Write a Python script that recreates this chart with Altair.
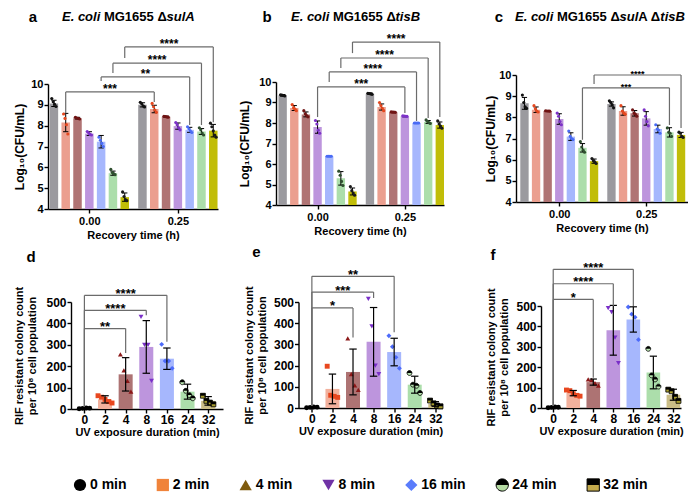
import altair as alt
import pandas as pd

FONT = "Liberation Sans"

# ---------------- categories / labels ----------------
CONDS = ["0 min", "2 min", "4 min", "8 min", "16 min", "24 min", "32 min"]
UV_LABELS = ["0", "2", "4", "8", "16", "24", "32"]
RECOVERY_LABELS = ["0.00", "0.25"]

# ---------------- panel a : E. coli MG1655 dsulA ----------------
A0_MEAN = [9.07, 8.15, 8.36, 7.62, 7.23, 5.72, 4.57]
A0_SD = [0.15, 0.44, 0.04, 0.09, 0.3, 0.1, 0.2]
A0_PTS = [[9.3, 9.15, 9.03, 8.92], [8.56, 8.35, 8.05, 7.6], [8.4, 8.37, 8.35, 8.32],
          [7.72, 7.66, 7.58, 7.55], [7.45, 7.3, 7.15, 7.0], [5.9, 5.75, 5.7, 5.65],
          [4.82, 4.6, 4.45, 4.4]]
A25_MEAN = [9.0, 8.8, 8.43, 7.98, 7.8, 7.72, 7.76]
A25_SD = [0.1, 0.18, 0.03, 0.15, 0.12, 0.14, 0.3]
A25_PTS = [[9.12, 9.05, 8.95, 8.9], [9.07, 8.91, 8.75, 8.64], [8.45, 8.44, 8.42, 8.41],
           [8.15, 8.05, 7.9, 7.8], [7.95, 7.85, 7.75, 7.67], [7.9, 7.8, 7.65, 7.55],
           [8.12, 7.95, 7.75, 7.55, 7.45]]
# (condition index, bracket level, left leg end, right leg end, label)
A_BRACKETS = [(1, 9.62, 8.6, 9.14, "***"), (4, 10.34, 10.14, 8.03, "**"),
              (5, 11.0, 10.53, 8.03, "****"), (6, 11.78, 11.25, 8.17, "****")]

# ---------------- panel b : E. coli MG1655 dtisB ----------------
B0_MEAN = [9.35, 8.73, 8.42, 7.8, 6.38, 5.3, 4.66]
B0_SD = [0.04, 0.12, 0.12, 0.3, 0.0, 0.33, 0.17]
B0_PTS = [[9.38, 9.36, 9.34, 9.32], [8.9, 8.75, 8.68, 8.6], [8.6, 8.45, 8.36, 8.3],
          [8.12, 7.95, 7.65, 7.5], [6.38, 6.38, 6.38, 6.38], [5.65, 5.45, 5.15, 4.95],
          [4.9, 4.7, 4.58, 4.48]]
B25_MEAN = [9.43, 8.78, 8.53, 8.33, 8.0, 8.05, 7.9]
B25_SD = [0.04, 0.15, 0.02, 0.03, 0.0, 0.07, 0.15]
B25_PTS = [[9.45, 9.44, 9.42, 9.4], [9.0, 8.85, 8.72, 8.6], [8.54, 8.53, 8.53, 8.52],
           [8.35, 8.34, 8.33, 8.32], [8.0, 8.0, 8.0, 8.0], [8.15, 8.08, 8.02, 7.98],
           [8.1, 7.95, 7.85, 7.75]]
B_BRACKETS = [(3, 9.76, 8.29, 8.49, "***"), (4, 10.49, 10.0, 8.1, "****"),
              (5, 11.17, 10.68, 8.24, "****"), (6, 11.95, 11.41, 8.29, "****")]

# ---------------- panel c : E. coli MG1655 dsulA dtisB ----------------
C0_MEAN = [8.66, 8.36, 8.3, 7.92, 7.09, 6.56, 5.93]
C0_SD = [0.28, 0.13, 0.01, 0.25, 0.18, 0.2, 0.1]
C0_PTS = [[9.05, 8.7, 8.5, 8.42], [8.55, 8.4, 8.3, 8.25], [8.31, 8.3, 8.3, 8.29],
          [8.2, 8.05, 7.8, 7.65], [7.35, 7.1, 7.0, 6.95], [6.85, 6.6, 6.45, 6.35],
          [6.05, 5.95, 5.9, 5.82]]
C25_MEAN = [8.63, 8.3, 8.19, 7.95, 7.45, 7.29, 7.17]
C25_SD = [0.1, 0.2, 0.13, 0.32, 0.18, 0.22, 0.12]
C25_PTS = [[8.78, 8.7, 8.6, 8.45], [8.55, 8.3, 8.2, 8.15], [8.35, 8.2, 8.15, 8.05],
           [8.35, 8.05, 7.8, 7.6], [7.65, 7.45, 7.4, 7.25], [7.5, 7.3, 7.25, 7.1],
           [7.3, 7.25, 7.1, 7.05]]
C_BRACKETS = [(5, 9.39, 6.94, 7.64, "***"), (6, 10.0, 9.58, 7.5, "****")]

# ---------------- panels d, e, f : RIF resistant colonies ----------------
D_MEAN = [3, 45, 162, 290, 235, 81, 38]
D_SD = [2, 17, 78, 123, 50, 35, 20]
D_PTS = [[1, 3, 5, 4], [62, 55, 45, 35, 28], [255, 180, 131, 81], [430, 300, 300, 131],
         [302, 224, 224, 190], [125, 85, 65, 50], [62, 38, 30, 22]]
D_BRACKETS = [(2, 376, 10, 262, "**"), (3, 461, 10, 438, "****"), (4, 531, 10, 314, "****")]

E_MEAN = [3, 90, 170, 312, 264, 110, 19]
E_SD = [2, 70, 108, 162, 65, 40, 11]
E_PTS = [[1, 3, 5, 4], [197, 60, 55, 50], [328, 160, 107, 85], [515, 385, 200, 160],
         [341, 289, 239, 187], [165, 110, 105, 71], [35, 22, 12, 8]]
E_BRACKETS = [(2, 472, 10, 333, "*"), (3, 547, 10, 519, "***"), (4, 621, 10, 357, "**")]

F_MEAN = [3, 73, 127, 381, 434, 174, 65]
F_SD = [2, 13, 15, 122, 62, 80, 27]
F_PTS = [[1, 3, 5, 4], [88, 85, 70, 62, 58], [140, 138, 122, 110], [490, 470, 345, 220],
         [495, 460, 445, 335], [290, 160, 140, 105], [90, 82, 55, 35]]
F_BRACKETS = [(2, 532, 10, 148, "*"), (3, 609, 10, 500, "****"), (4, 680, 10, 500, "****")]

# ---------------- styles ----------------
TOP_BAR_COLORS = ["#9b9a9f", "#eb9f8f", "#b07474", "#bd95dd", "#a6b7fd", "#acdeab", "#c1bd08"]
TOP_PT_COLORS = ["#111111", "#e5481f", "#701414", "#7d32c8", "#4a6cf5", "#2f4f2f", "#1a1a1a"]
BOT_BAR_COLORS = ["#9b9a9f", "#f2b19d", "#ad7373", "#bd95dd", "#a6b7fd", "#acdeab", "#cabd86"]
BOT_PT_COLORS = ["#000000", "#e8471f", "#8c1818", "#7a2fc8", "#4d6bfa", "#b9e4b0", "#a99f2e"]
LEG_COLORS = ["#000000", "#f0833a", "#7f5b0e", "#7032a6", "#5a7cfb", "#b5dba3", "#c3aa4c"]
BRACKET_COLOR = "#6b6b6b"

CIRCLE = "M-1,0A1,1,0,1,1,1,0A1,1,0,1,1,-1,0Z"
CIRCLE_TOP = "M-1,0A1,1,0,0,1,1,0Z"
SQUARE = "M-1,-1L1,-1L1,1L-1,1Z"
SQUARE_TOP = "M-1,-1L1,-1L1,0L-1,0Z"
PT_SHAPES = ["circle", "square", "triangle-up", "triangle-down", "diamond", CIRCLE, SQUARE]
PT_TOPS = ["", "", "", "", "", CIRCLE_TOP, SQUARE_TOP]

GAP = 7.5
TOP_BW, TOP_CW, TOP_JIT = 0.72, 0.45, 0.12
BOT_BW, BOT_CW, BOT_JIT = 0.68, 0.36, 0.17

ONE = pd.DataFrame({"k": [0]})

EM = {'E': .667, '.': .278, ' ': .278, 'c': .556, 'o': .611, 'l': .278, 'i': .278,
      'M': .833, 'G': .778, '1': .556, '6': .556, '5': .556, 'Δ': .70, 's': .556,
      'u': .611, 'A': .722, 't': .333, 'B': .722}


def text_w(t, size):
    return sum(EM.get(ch, .556) for ch in t) * size


def axis_style(**kw):
    base = dict(grid=False, domainColor="black", domainWidth=1.4, tickColor="black",
                tickWidth=1.4, tickSize=4, labelColor="black", labelFont=FONT,
                labelFontWeight="bold", titleColor="black", titleFont=FONT,
                titleFontWeight="bold", labelPadding=2)
    base.update(kw)
    return alt.Axis(**base)


def spacer():
    return alt.Chart(ONE).mark_rule(opacity=0, strokeWidth=0.01).encode(
        x=alt.value(0), x2=alt.value(1), y=alt.value(0)).properties(width=1, height=1)


def boxed(panel):
    # an invisible 1px spacer above the panel: panels in a row then line up by their top edge
    return alt.vconcat(spacer(), panel, spacing=0)


def head_layers(letter, letter_x, y, segs, seg_x, size=13):
    layers = [alt.Chart(ONE).mark_text(text=letter, fontSize=15, fontWeight="bold",
                                       align="center", baseline="middle", color="black")
              .encode(x=alt.value(letter_x), y=alt.value(y))]
    x = seg_x
    for t, italic in segs:
        kw = dict(fontStyle="italic") if italic else {}
        layers.append(alt.Chart(ONE).mark_text(text=t.strip(), fontSize=size, fontWeight="bold",
                                               align="left", baseline="middle", color="black", **kw)
                      .encode(x=alt.value(x), y=alt.value(y)))
        x += text_w(t, size)
    return layers


def bracket_layers(bk, X, Y, fsize, dy):
    hline = alt.Chart(bk).mark_rule(color=BRACKET_COLOR, strokeWidth=1.2).encode(
        x=X("x1"), x2="x2", y=Y("yl"))
    lleg = alt.Chart(bk).mark_rule(color=BRACKET_COLOR, strokeWidth=1.2).encode(
        x=X("x1"), y=Y("ya"), y2="yl")
    rleg = alt.Chart(bk).mark_rule(color=BRACKET_COLOR, strokeWidth=1.2).encode(
        x=X("x2"), y=Y("yb"), y2="yl")
    txt = alt.Chart(bk).mark_text(fontSize=fsize, fontWeight="bold", baseline="alphabetic",
                                  dy=dy, color="black").encode(x=X("xm"), y=Y("yl"), text="label:N")
    return [hline, lleg, rleg, txt]


def top_panel(m0, s0, p0, m1, s1, p1, brackets, xdom, w, h, ypad, head, bfont, bdy):
    bars, pts = [], []
    for g, (ms, ss, ps) in enumerate([(m0, s0, p0), (m1, s1, p1)]):
        for i in range(7):
            pos = g * GAP + i
            bars.append(dict(pos=pos, x0=pos - TOP_BW / 2, x1=pos + TOP_BW / 2,
                             c0=pos - TOP_CW / 2, c1=pos + TOP_CW / 2, mean=ms[i],
                             lo=ms[i] - ss[i], hi=ms[i] + ss[i], base=4,
                             color=TOP_BAR_COLORS[i]))
            n = len(ps[i])
            for k, v in enumerate(ps[i]):
                pts.append(dict(px=pos + (k - (n - 1) / 2) * TOP_JIT, val=v,
                                color=TOP_PT_COLORS[i]))
    bdf, pdf_ = pd.DataFrame(bars), pd.DataFrame(pts)
    bk = pd.DataFrame([dict(x1=c, x2=GAP + c, xm=(GAP + 2 * c) / 2, yl=yl, ya=ya, yb=yb, label=lab)
                       for c, yl, ya, yb, lab in brackets])

    xaxis = axis_style(values=[3, GAP + 3],
                       labelExpr=f"datum.value < {GAP} ? '{RECOVERY_LABELS[0]}' : '{RECOVERY_LABELS[1]}'",
                       labelFontSize=11, titleFontSize=11, titlePadding=3)
    yaxis = axis_style(values=list(range(4, 11)), labelFontSize=11, titleFontSize=12,
                       titlePadding=ypad, labelPadding=1)
    xs = alt.Scale(domain=xdom, nice=False, zero=False)
    ys = alt.Scale(domain=[4, 10], nice=False, zero=False)

    def X(f):
        return alt.X(f, type="quantitative", scale=xs, axis=xaxis, title="Recovery time (h)")

    def Y(f):
        return alt.Y(f, type="quantitative", scale=ys, axis=yaxis, title="Log₁₀(CFU/mL)")

    bar = alt.Chart(bdf).mark_bar().encode(x=X("x0"), x2="x1", y=Y("mean"), y2="base",
                                           color=alt.Color("color:N", scale=None))
    err = alt.Chart(bdf).mark_rule(color="black", strokeWidth=1).encode(x=X("pos"), y=Y("lo"), y2="hi")
    caph = alt.Chart(bdf).mark_rule(color="black", strokeWidth=1).encode(x=X("c0"), x2="c1", y=Y("hi"))
    capl = alt.Chart(bdf).mark_rule(color="black", strokeWidth=1).encode(x=X("c0"), x2="c1", y=Y("lo"))
    pt = alt.Chart(pdf_).mark_point(filled=True, size=10, opacity=1).encode(
        x=X("px"), y=Y("val"), color=alt.Color("color:N", scale=None))
    layers = [bar, err, caph, capl, pt] + bracket_layers(bk, X, Y, bfont, bdy) + head_layers(*head)
    return alt.layer(*layers).properties(width=w, height=h)


def bottom_panel(means, sds, ptsv, brackets, xdom, w, h, ypad, letter, letter_x, letter_y, anchor_y):
    bars, pts = [], []
    for i in range(7):
        pos = i
        bars.append(dict(pos=pos, x0=pos - BOT_BW / 2, x1=pos + BOT_BW / 2,
                         c0=pos - BOT_CW / 2, c1=pos + BOT_CW / 2, mean=means[i],
                         lo=max(means[i] - sds[i], 0), hi=means[i] + sds[i], base=0,
                         color=BOT_BAR_COLORS[i]))
        n = len(ptsv[i])
        for k, v in enumerate(ptsv[i]):
            pts.append(dict(px=pos + (k - (n - 1) / 2) * BOT_JIT, val=v, fill=BOT_PT_COLORS[i],
                            shape=PT_SHAPES[i], top=PT_TOPS[i],
                            stroke="#000000" if PT_TOPS[i] else "transparent"))
    bdf, pdf_ = pd.DataFrame(bars), pd.DataFrame(pts)
    tdf = pdf_[pdf_["top"] != ""]
    bk = pd.DataFrame([dict(x1=0, x2=c, xm=c / 2, yl=yl, ya=ya, yb=yb, label=lab)
                       for c, yl, ya, yb, lab in brackets])

    expr = "''"
    for i in reversed(range(7)):
        expr = f"datum.value == {i} ? '{UV_LABELS[i]}' : ({expr})"
    xaxis = axis_style(values=list(range(7)), labelExpr=expr, labelFontSize=12,
                       titleFontSize=11, titlePadding=1, labelPadding=1)
    yaxis = axis_style(values=list(range(0, 501, 100)), labelFontSize=12, titleFontSize=11,
                       titlePadding=ypad, labelPadding=1, titleLineHeight=13)
    xs = alt.Scale(domain=xdom, nice=False, zero=False)
    ys = alt.Scale(domain=[0, 500], nice=False, zero=False)

    def X(f):
        return alt.X(f, type="quantitative", scale=xs, axis=xaxis, title="UV exposure duration (min)")

    def Y(f):
        return alt.Y(f, type="quantitative", scale=ys, axis=yaxis,
                     title=["RIF resistant colony count", "per 10⁸ cell population"])

    bar = alt.Chart(bdf).mark_bar().encode(x=X("x0"), x2="x1", y=Y("mean"), y2="base",
                                           color=alt.Color("color:N", scale=None))
    err = alt.Chart(bdf).mark_rule(color="black", strokeWidth=1.2).encode(x=X("pos"), y=Y("lo"), y2="hi")
    caph = alt.Chart(bdf).mark_rule(color="black", strokeWidth=1.2).encode(x=X("c0"), x2="c1", y=Y("hi"))
    capl = alt.Chart(bdf).mark_rule(color="black", strokeWidth=1.2).encode(x=X("c0"), x2="c1", y=Y("lo"))
    pt = alt.Chart(pdf_).mark_point(filled=True, size=24, opacity=1, strokeWidth=0.8).encode(
        x=X("px"), y=Y("val"), fill=alt.Fill("fill:N", scale=None),
        shape=alt.Shape("shape:N", scale=None), stroke=alt.Stroke("stroke:N", scale=None))
    ptop = alt.Chart(tdf).mark_point(filled=True, size=24, opacity=1, color="#000000").encode(
        x=X("px"), y=Y("val"), shape=alt.Shape("top:N", scale=None))
    letter_l = alt.Chart(ONE).mark_text(text=letter, fontSize=15, fontWeight="bold", align="center",
                                        baseline="middle", color="black").encode(
        x=alt.value(letter_x), y=alt.value(letter_y))
    anchor = alt.Chart(ONE).mark_text(text=letter, fontSize=10, opacity=0, baseline="top",
                                      align="left").encode(x=alt.value(0), y=alt.value(anchor_y))
    layers = [bar, pt, ptop, err, caph, capl] + bracket_layers(bk, X, Y, 13, 2.5) + [letter_l, anchor]
    return alt.layer(*layers).properties(width=w, height=h)


pa = top_panel(A0_MEAN, A0_SD, A0_PTS, A25_MEAN, A25_SD, A25_PTS, A_BRACKETS,
               [-0.5, 13.9], 170, 125, 4,
               ("a", -15, -67, [("E. coli ", True), ("MG1655 Δ", False), ("sulA", True)], 14), 12, 1)
pb = top_panel(B0_MEAN, B0_SD, B0_PTS, B25_MEAN, B25_SD, B25_PTS, B_BRACKETS,
               [-0.57, 13.86], 168, 123, 7,
               ("b", -9, -65, [("E. coli ", True), ("MG1655 Δ", False), ("tisB", True)], 15), 12, 1)
pc = top_panel(C0_MEAN, C0_SD, C0_PTS, C25_MEAN, C25_SD, C25_PTS, C_BRACKETS,
               [-0.73, 14.1], 172, 127, 1,
               ("c", -17, -58, [("E. coli ", True), ("MG1655 Δ", False), ("sul", True),
                                ("A Δ", False), ("tisB", True)], -1), 9, 2)

pd_ = bottom_panel(D_MEAN, D_SD, D_PTS, D_BRACKETS, [-0.65, 6.72], 152, 107, 8, "d", -40, -45, -59)
pe = bottom_panel(E_MEAN, E_SD, E_PTS, E_BRACKETS, [-0.65, 6.35], 144, 106, 5.5, "e", -42, -50, -59)
pf = bottom_panel(F_MEAN, F_SD, F_PTS, F_BRACKETS, [-0.61, 6.38], 140, 102, 6, "f", -48, -51, -63)

# ---------------- legend row ----------------
leg_rows = []
acc = 0.0
for i, c in enumerate(CONDS):
    leg_rows.append(dict(lx=acc, label=c, fill=LEG_COLORS[i], shape=PT_SHAPES[i], top=PT_TOPS[i],
                         stroke="#000000" if PT_TOPS[i] else "transparent"))
    acc += 5.2 + len(c)
ldf = pd.DataFrame(leg_rows)
lxs = alt.Scale(domain=[-8.25, 68.1], nice=False, zero=False)
leg_pts = alt.Chart(ldf).mark_point(filled=True, size=150, opacity=1, strokeWidth=1).encode(
    x=alt.X("lx:Q", scale=lxs, axis=None), y=alt.value(8),
    fill=alt.Fill("fill:N", scale=None), shape=alt.Shape("shape:N", scale=None),
    stroke=alt.Stroke("stroke:N", scale=None))
leg_top = alt.Chart(ldf[ldf["top"] != ""]).mark_point(filled=True, size=150, opacity=1,
                                                      color="#000000").encode(
    x=alt.X("lx:Q", scale=lxs, axis=None), y=alt.value(8), shape=alt.Shape("top:N", scale=None))
leg_txt = alt.Chart(ldf).mark_text(align="left", baseline="middle", dx=10, fontSize=14,
                                   fontWeight="bold", color="black").encode(
    x=alt.X("lx:Q", scale=lxs, axis=None), y=alt.value(8), text="label:N")
legend = alt.layer(leg_pts, leg_top, leg_txt).properties(width=620, height=16)

top_row = alt.hconcat(
    spacer(),
    alt.hconcat(alt.hconcat(boxed(pa), boxed(pb), spacing=20), boxed(pc), spacing=40),
    spacing=0)
bot_row = alt.hconcat(
    spacer(),
    alt.hconcat(alt.hconcat(boxed(pd_), boxed(pe), spacing=20.5), boxed(pf), spacing=40),
    spacing=0)
leg_row = alt.hconcat(spacer(), legend, spacing=0)

chart = alt.vconcat(alt.vconcat(top_row, bot_row, spacing=2), leg_row, spacing=39).properties(
    padding={"left": 4, "top": 1, "right": 0, "bottom": 0}
).configure(font=FONT).configure_view(strokeWidth=0)

chart.save("out.html", embed_options={"renderer": "svg", "actions": False})
